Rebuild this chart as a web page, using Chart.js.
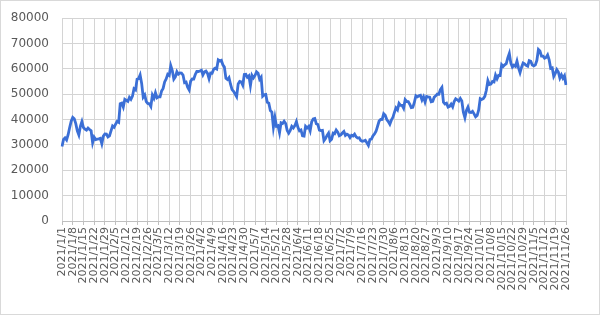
<!DOCTYPE html>
<html>
<head>
<meta charset="utf-8">
<script src="https://cdn.jsdelivr.net/npm/chart.js@4"></script>
<style>
  body { margin: 0; background: #fff; }
  #box { width: 598px; height: 313px; border: 1px solid #d9d9d9; }
  canvas { display: block; }
</style>
</head>
<body>
<div id="box"><canvas id="priceChart" width="598" height="313"></canvas></div>
<script>
// daily close, 2021/1/1 - 2021/11/26
const jan = [29374, 32127, 32782, 31971, 33992, 36824, 39371, 40797, 40254, 38356, 35566, 33922, 37316, 39187, 36825, 36178, 35792, 36630, 36070, 35547, 30825, 33005, 32067, 32289, 32366, 32569, 30432, 33466, 34316, 34269, 33114];
const feb = [33538, 35510, 37472, 36926, 38144, 39266, 38903, 46196, 46481, 44918, 47909, 47504, 47105, 48717, 47945, 49199, 52149, 51679, 55888, 56099, 57539, 54207, 48824, 49705, 47093, 46339, 46188, 45137];
const mar = [49631, 48378, 50538, 48561, 48927, 48912, 51206, 52246, 54824, 56008, 57805, 57332, 61243, 59302, 55907, 56804, 58870, 57858, 58346, 58313, 57523, 54529, 54738, 52774, 51704, 55137, 55974, 55947, 57750, 58918, 58918];
const apr = [59095, 59384, 57603, 58758, 59057, 58192, 56048, 58323, 58245, 59793, 60204, 59893, 63503, 63109, 63314, 61572, 60683, 56216, 55724, 56473, 53906, 51762, 51093, 50050, 49004, 54021, 55033, 54824, 53555, 57750];
const may = [57828, 56631, 57200, 53333, 57424, 56396, 57356, 58803, 58232, 55859, 56704, 49150, 49716, 49880, 46760, 46456, 43537, 42909, 37002, 40782, 37304, 37536, 34770, 38705, 38402, 39294, 38436, 35697, 34616, 35678, 37332];
const jun = [36684, 37575, 39188, 36894, 35551, 35862, 33561, 33473, 37345, 36703, 37313, 35551, 39097, 40219, 40406, 38347, 38053, 35787, 35615, 35698, 31676, 32505, 33723, 34662, 31637, 32186, 34649, 34434, 35867, 35040];
const jul = [33572, 33897, 34668, 35287, 33746, 34235, 33855, 32877, 33798, 33520, 34240, 33155, 32702, 32822, 31780, 31421, 31533, 31796, 30817, 29807, 32110, 32313, 33581, 34292, 35350, 37337, 39406, 39995, 40008, 42235, 41626];
const aug = [39974, 39201, 38152, 39747, 40869, 42816, 44555, 43798, 46365, 45585, 45593, 44428, 47793, 47096, 47047, 46004, 44695, 44801, 46717, 49339, 48905, 49321, 49546, 47706, 48960, 46942, 49058, 48897, 48767, 46970, 47167];
const sep = [48847, 49327, 50025, 49944, 51753, 52633, 46811, 46091, 46391, 44883, 45201, 46063, 44963, 47092, 48176, 47783, 47267, 48278, 47260, 42844, 40694, 43574, 44896, 42840, 42717, 43208, 42236, 41034, 41564, 43791];
const oct = [48225, 47888, 48233, 49112, 51515, 55361, 53805, 53967, 54968, 54772, 57485, 56041, 57401, 57322, 61593, 60892, 61553, 62026, 64262, 65993, 62210, 60693, 61393, 60931, 63040, 60364, 58483, 60622, 62228, 61889, 61319];
const nov = [61005, 63226, 62971, 61452, 61126, 61528, 63327, 67566, 66971, 64996, 64950, 64156, 64470, 65466, 63557, 60161, 60369, 56942, 58119, 59697, 58731, 56289, 57570, 56281, 57274, 53569];

const months = [jan, feb, mar, apr, may, jun, jul, aug, sep, oct, nov];
const yTicks = [0, 10000, 20000, 30000, 40000, 50000, 60000, 70000, 80000];
const labelStep = 7; // one label + gridline per week

const labels = [];
const values = [];
months.forEach((arr, m) => {
    arr.forEach((v, d) => {
        labels.push(`2021/${m + 1}/${d + 1}`);
        values.push(v);
    });
});

const gridColor = '#d4d4d4';
const textColor = '#595959';

new Chart(document.getElementById('priceChart'), {
    type: 'line',
    data: {
        labels: labels,
        datasets: [{
            data: values,
            borderColor: '#3b6fd6',
            borderWidth: 2.8,
            pointRadius: 0,
            tension: 0,
            fill: false
        }]
    },
    options: {
        responsive: false,
        animation: false,
        layout: { padding: { left: 0, right: 33, top: 17, bottom: 0 } },
        plugins: { legend: { display: false }, tooltip: { enabled: false } },
        scales: {
            x: {
                offset: false,
                afterBuildTicks: s => { s.ticks = s.ticks.filter((t, i) => i % labelStep === 0); },
                grid: { color: gridColor, tickColor: '#bfbfbf', tickLength: 4 },
                border: { color: '#bfbfbf' },
                ticks: {
                    autoSkip: false,
                    maxRotation: 90,
                    minRotation: 90,
                    padding: 2,
                    color: textColor,
                    font: { family: 'DejaVu Sans', size: 11 }
                },
                afterFit: s => { s.height = 93; }
            },
            y: {
                min: 0,
                max: 80000,
                grid: { color: gridColor, drawTicks: false },
                border: { display: false },
                afterBuildTicks: s => { s.ticks = yTicks.map(v => ({ value: v })); },
                ticks: {
                    padding: 13,
                    color: textColor,
                    font: { family: 'DejaVu Sans', size: 12 },
                    callback: v => String(v)
                },
                afterFit: s => { s.width = 61; s.paddingTop = 0; s.paddingBottom = 0; }
            }
        }
    }
});
</script>
</body>
</html>
